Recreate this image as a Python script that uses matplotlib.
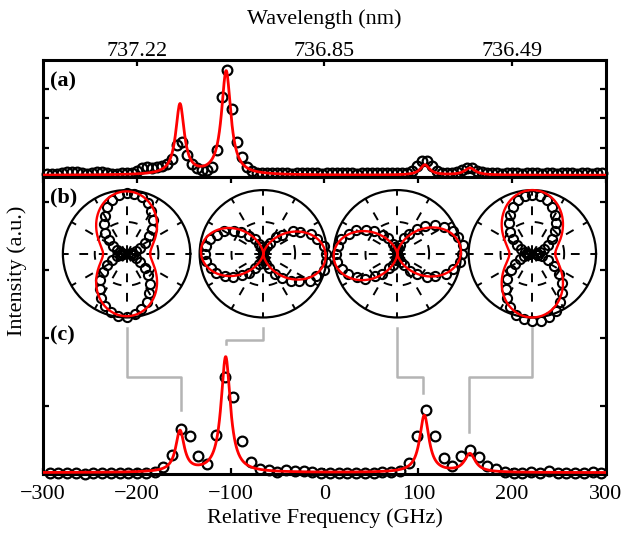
import numpy as np
import matplotlib.pyplot as plt

plt.rcParams['font.family'] = 'Liberation Serif'
plt.rcParams['font.size'] = 16

# ---- panel (a): high resolution spectrum ----
freq_a = np.linspace(-296.2, 295.4, 112)
int_a = [0.10, 0.10, 0.11, 0.12, 0.16, 0.18, 0.16, 0.12, 0.11, 0.13,
         0.17, 0.16, 0.12, 0.11, 0.11, 0.12, 0.12, 0.14, 0.22, 0.30,
         0.33, 0.32, 0.33, 0.36, 0.45, 0.62, 1.09, 1.20, 0.75, 0.45,
         0.32, 0.24, 0.24, 0.35, 0.92, 2.74, 3.65, 2.34, 1.20, 0.69,
         0.35, 0.20, 0.15, 0.13, 0.12, 0.12, 0.13, 0.12, 0.12, 0.11,
         0.12, 0.12, 0.13, 0.12, 0.12, 0.11, 0.12, 0.12, 0.12, 0.13,
         0.12, 0.12, 0.11, 0.12, 0.12, 0.12, 0.13, 0.12, 0.12, 0.12,
         0.13, 0.14, 0.15, 0.20, 0.36, 0.55, 0.56, 0.36, 0.20, 0.15,
         0.14, 0.15, 0.18, 0.25, 0.31, 0.30, 0.22, 0.16, 0.13, 0.12,
         0.12, 0.11, 0.12, 0.12, 0.12, 0.11, 0.12, 0.12, 0.12, 0.11,
         0.12, 0.12, 0.11, 0.12, 0.12, 0.12, 0.11, 0.12, 0.12, 0.11,
         0.12, 0.12]
fit_a_center = [-154.0, -104.8, 107.0, 155.0]
fit_a_amp = [2.40, 3.55, 0.35, 0.24]
fit_a_width = [5.5, 6.0, 6.0, 7.0]
fit_a_offset = 0.06

# ---- panel (c): low resolution spectrum ----
freq_c = np.linspace(-293, 295, 64)
int_c = [0.02, 0.01, 0.02, 0.02, 0.00, 0.02, 0.02, 0.01, 0.01, 0.02,
         0.02, 0.02, 0.03, 0.10, 0.28, 0.66, 0.56, 0.27, 0.15, 0.58,
         1.42, 1.13, 0.49, 0.17, 0.08, 0.06, 0.03, 0.06, 0.05, 0.04,
         0.03, 0.02, 0.02, 0.01, 0.02, 0.01, 0.02, 0.02, 0.03, 0.03,
         0.05, 0.16, 0.56, 0.94, 0.56, 0.23, 0.12, 0.27, 0.35, 0.25,
         0.12, 0.07, 0.03, 0.02, 0.02, 0.03, 0.02, 0.04, 0.02, 0.01,
         0.02, 0.02, 0.03, 0.01]
fit_c_center = [-154.0, -105.3, 106.4, 155.0]
fit_c_amp = [0.60, 1.70, 0.84, 0.27]
fit_c_width = [5.5, 6.0, 6.0, 7.0]
fit_c_offset = 0.02

# ---- panel (b): polarisation dependence, every 7.5 degrees ----
pol_angle = np.arange(0, 360, 7.5)
pol1_r = [0.07, 0.09, 0.15, 0.23, 0.33, 0.45, 0.56, 0.67, 0.78, 0.86, 0.92, 0.95,
          0.96, 0.93, 0.87, 0.80, 0.69, 0.58, 0.47, 0.35, 0.25, 0.16, 0.10, 0.07,
          0.06, 0.09, 0.15, 0.24, 0.35, 0.46, 0.58, 0.69, 0.80, 0.88, 0.95, 0.98,
          0.99, 0.96, 0.90, 0.82, 0.71, 0.60, 0.48, 0.36, 0.25, 0.16, 0.10, 0.07]
pol2_r = [0.99, 0.96, 0.88, 0.81, 0.67, 0.58, 0.42, 0.33, 0.20, 0.14, 0.07, 0.04,
          0.04, 0.06, 0.11, 0.16, 0.27, 0.36, 0.49, 0.58, 0.71, 0.78, 0.87, 0.90,
          0.92, 0.91, 0.85, 0.80, 0.69, 0.60, 0.47, 0.38, 0.25, 0.18, 0.10, 0.06,
          0.05, 0.09, 0.16, 0.24, 0.37, 0.47, 0.61, 0.71, 0.84, 0.90, 0.98, 0.99]
pol3_r = [1.02, 1.04, 0.99, 0.95, 0.84, 0.75, 0.61, 0.50, 0.36, 0.26, 0.15, 0.09,
          0.04, 0.06, 0.11, 0.17, 0.28, 0.38, 0.51, 0.62, 0.75, 0.82, 0.92, 0.94,
          0.97, 0.96, 0.90, 0.84, 0.73, 0.64, 0.49, 0.40, 0.26, 0.19, 0.10, 0.06,
          0.05, 0.04, 0.07, 0.14, 0.21, 0.34, 0.44, 0.59, 0.69, 0.83, 0.90, 0.99]
pol4_r = [0.06, 0.08, 0.12, 0.19, 0.28, 0.38, 0.50, 0.61, 0.71, 0.80, 0.87, 0.91,
          0.93, 0.91, 0.87, 0.80, 0.71, 0.61, 0.49, 0.38, 0.28, 0.19, 0.12, 0.08,
          0.06, 0.08, 0.13, 0.21, 0.31, 0.43, 0.56, 0.69, 0.81, 0.91, 0.99, 1.04,
          1.06, 1.06, 1.03, 0.97, 0.88, 0.77, 0.65, 0.52, 0.39, 0.27, 0.16, 0.09]
pol_fit_offset = [0.37, 0.00, 0.00, 0.36]
pol_fit_amp = [0.61, 0.98, 1.00, 0.64]
pol_fit_angle = [90, -3, 3, 90]
pol_peak = [-153, -104.5, 105.5, 154]  # peak each inset belongs to

wl_ticks = [-200, 0, 200]
wl_labels = ['737.22', '736.85', '736.49']


def lorentz_sum(x, centers, amps, widths, offset):
    y = np.full_like(x, offset)
    for c, a, w in zip(centers, amps, widths):
        y += a / (1 + ((x - c) / w) ** 2)
    return y


fig = plt.figure(figsize=(6.23, 5.36), dpi=100)
ax_a = fig.add_axes([0.0690, 0.6698, 0.9037, 0.2183])
ax_c = fig.add_axes([0.0690, 0.1157, 0.9037, 0.5541])

x_fit = np.linspace(-300, 300, 1201)
mk = dict(marker='o', ls='none', mfc='none', mec='k', ms=7, mew=1.6, clip_on=False, zorder=3)

ax_a.plot(freq_a, int_a, **mk)
ax_a.plot(x_fit, lorentz_sum(x_fit, fit_a_center, fit_a_amp, fit_a_width, fit_a_offset),
          color='#ff0000', lw=2, zorder=4)
ax_c.plot(freq_c, int_c, **mk)
ax_c.plot(x_fit, lorentz_sum(x_fit, fit_c_center, fit_c_amp, fit_c_width, fit_c_offset),
          color='#ff0000', lw=2, zorder=4)

for ax in (ax_a, ax_c):
    ax.set_xlim(-300, 300)
    for s in ax.spines.values():
        s.set_linewidth(2.2)
    ax.tick_params(axis='both', direction='in', width=1.6, length=4,
                   left=True, right=True, labelleft=False)

ax_a.set_ylim(0, 4)
ax_a.set_yticks([1, 2, 3])
ax_a.set_xticks(wl_ticks)
ax_a.set_xticklabels(wl_labels)
ax_a.tick_params(axis='x', top=True, bottom=False, labeltop=True, labelbottom=False, pad=-1)
ax_a.xaxis.set_label_position('top')
ax_a.set_xlabel('Wavelength (nm)', labelpad=13)

ax_c.set_ylim(0, 4.37)
ax_c.set_yticks([1, 2, 3, 4])
ax_c.set_xticks(range(-300, 301, 100))
ax_c.tick_params(axis='x', top=True, bottom=True, pad=8)
ax_c.set_xlabel('Relative Frequency (GHz)', labelpad=3)

fig.text(0.028, 0.495, 'Intensity (a.u.)', rotation=90, ha='center', va='center')

ax_a.text(0.012, 0.90, '(a)', transform=ax_a.transAxes, fontweight='bold', va='top')
ax_c.text(0.012, 0.965, '(b)', transform=ax_c.transAxes, fontweight='bold', va='top')
ax_c.text(0.012, 0.500, '(c)', transform=ax_c.transAxes, fontweight='bold', va='top')

# polar insets
pol_center_x = [-210.9, -65.2, 77.6, 221.5]
pol_center_y = 3.24
rad_px = 63.7
fw, fh = 623.0, 536.0
to_fig = fig.transFigure.inverted()
pol_data = [pol1_r, pol2_r, pol3_r, pol4_r]
th = np.deg2rad(pol_angle)
th_fit = np.linspace(0, 2 * np.pi, 361)
for i in range(4):
    cx, cy = ax_c.transData.transform((pol_center_x[i], pol_center_y))
    fx, fy = to_fig.transform((cx - rad_px, cy - rad_px))
    axp = fig.add_axes([fx, fy, 2 * rad_px / fw, 2 * rad_px / fh], projection='polar')
    axp.set_ylim(0, 1)
    axp.set_xticks([])
    axp.set_yticks([])
    axp.grid(False)
    axp.spines['polar'].set_linewidth(1.6)
    dash = (0, (4.5, 5.5))
    for t in range(0, 360, 30):
        axp.plot([np.deg2rad(t)] * 2, [0, 1], color='k', lw=1.4, ls=dash, zorder=1)
    axp.plot(th_fit, np.full_like(th_fit, 0.5), color='k', lw=1.4, ls=dash, zorder=1)
    r = np.array(pol_data[i])
    axp.plot(th, r, marker='o', ls='none', mfc='none',
             mec='k', ms=6.6, mew=1.5, clip_on=False, zorder=3)
    r_fit = pol_fit_offset[i] + pol_fit_amp[i] * np.cos(th_fit - np.deg2rad(pol_fit_angle[i])) ** 2
    axp.plot(th_fit, r_fit, color='#ff0000', lw=1.7, zorder=4, clip_on=False)

# grey connectors from insets to peaks
conn_mid = [1.43, 1.97, 1.43, 1.43]
conn_end = [0.94, 1.91, 1.19, 0.62]
for i in range(4):
    xs = [pol_center_x[i], pol_center_x[i], pol_peak[i], pol_peak[i]]
    ys = [2.15, conn_mid[i], conn_mid[i], conn_end[i]]
    ax_c.plot(xs, ys, color='#b4b4b4', lw=1.8, zorder=2)

fig.savefig('out.png', dpi=100)
